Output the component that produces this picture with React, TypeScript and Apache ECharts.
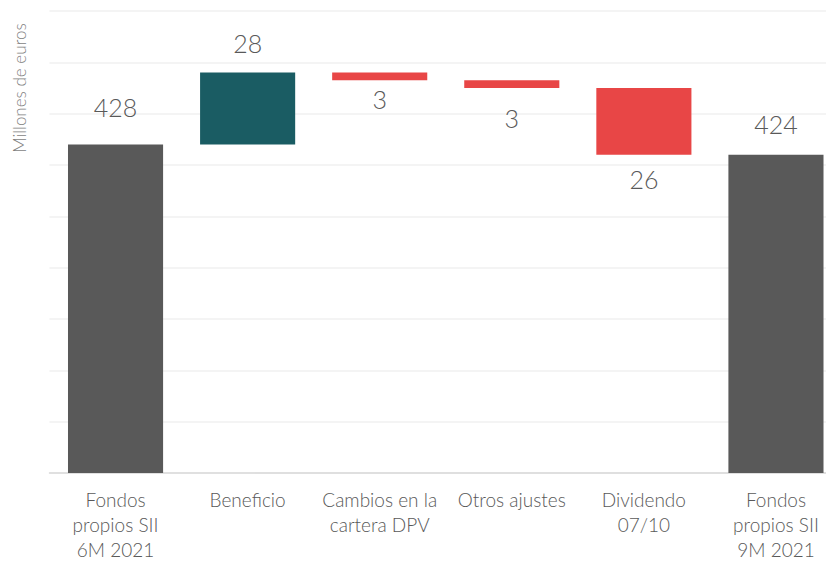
import React, { useEffect, useRef } from "react";
import * as echarts from "echarts";

const categories = [
  "Fondos\npropios SII\n6M 2021",
  "Beneficio",
  "Cambios en la\ncartera DPV",
  "Otros ajustes",
  "Dividendo\n07/10",
  "Fondos\npropios SII\n9M 2021",
];
const changes = [428, 28, -3, -3, -26, 424];
const isTotal = [true, false, false, false, false, true];
const colorTotal = "#595959";
const colorUp = "#1a5c63";
const colorDown = "#e84646";
const labelGap = [25, 17, 6, 17, 12, 18];

export default function App() {
  const ref = useRef<HTMLDivElement>(null);
  useEffect(() => {
    document.body.style.margin = "0";
    const chart = echarts.init(ref.current!, null, { renderer: "svg" });
    const base: number[] = [];
    const vis: any[] = [];
    let running = 0;
    changes.forEach((v, i) => {
      if (isTotal[i]) {
        base.push(0);
        running = v;
        vis.push({
          value: v,
          itemStyle: { color: colorTotal },
          label: { position: "top", distance: labelGap[i] },
        });
      } else if (v >= 0) {
        base.push(running);
        running += v;
        vis.push({
          value: v,
          itemStyle: { color: colorUp },
          label: { position: "top", distance: labelGap[i] },
        });
      } else {
        running += v;
        base.push(running);
        vis.push({
          value: -v,
          itemStyle: { color: colorDown },
          label: { position: "bottom", distance: labelGap[i] },
        });
      }
    });
    const font = "Lato, 'Noto Sans', sans-serif";
    chart.setOption({
      animation: false,
      grid: { left: 49.5, right: 0, top: 11, bottom: 92 },
      xAxis: {
        type: "category",
        data: categories,
        axisTick: { show: false },
        axisLine: { lineStyle: { color: "#d9d9d9", width: 1.5 } },
        axisLabel: {
          color: "#595959",
          fontSize: 19,
          fontWeight: 300,
          lineHeight: 25,
          fontFamily: font,
          margin: 14,
          interval: 0,
        },
      },
      yAxis: {
        type: "value",
        min: 300,
        max: 480,
        interval: 20,
        axisLabel: { show: false },
        axisLine: { show: false },
        axisTick: { show: false },
        splitLine: { lineStyle: { color: "#f0f0f0", width: 1.5 } },
      },
      graphic: [
        {
          type: "text",
          x: 19,
          y: 88,
          rotation: Math.PI / 2,
          style: {
            text: "Millones de euros",
            fill: "#7f7f7f",
            fontSize: 17,
            fontWeight: 300,
            fontFamily: font,
            textAlign: "center",
            textVerticalAlign: "middle",
          },
        },
      ],
      series: [
        {
          type: "bar",
          stack: "w",
          data: base,
          barWidth: "72%",
          itemStyle: { color: "transparent" },
          emphasis: { disabled: true },
          silent: true,
        },
        {
          type: "bar",
          stack: "w",
          data: vis,
          barWidth: "72%",
          label: {
            show: true,
            color: "#595959",
            fontSize: 25,
            fontWeight: 300,
            fontFamily: font,
          },
        },
      ],
    });
    return () => chart.dispose();
  }, []);
  return (
    <div style={{ width: 826, height: 565, overflow: "hidden", position: "relative" }}>
      <div ref={ref} style={{ width: 842, height: 565 }} />
    </div>
  );
}
